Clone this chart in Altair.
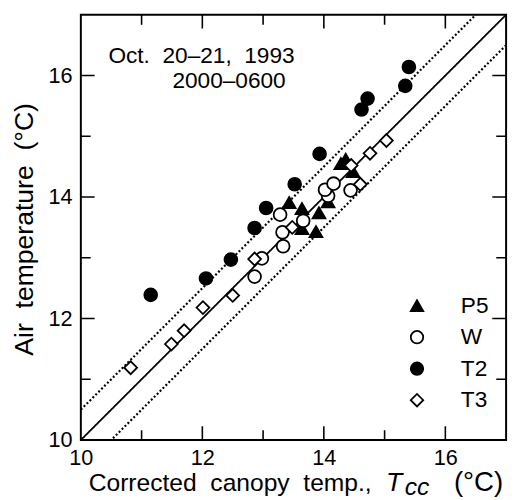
import altair as alt
import pandas as pd

FONT = "Liberation Sans"
NB = "\u00a0"

series_order = ["P5", "W", "T2", "T3"]
series_shapes = ["triangle-up", "circle", "circle", "diamond"]
series_fills = ["black", "white", "black", "white"]

p5_x = [13.43, 13.64, 13.92, 13.87, 13.64, 14.07, 14.28, 14.36, 14.48]
p5_y = [13.91, 13.81, 13.74, 13.43, 13.48, 13.92, 14.55, 14.62, 14.42]

w_x = [12.86, 12.98, 13.33, 13.32, 13.28, 13.66, 14.07, 14.02, 14.16, 14.44]
w_y = [12.69, 12.99, 13.19, 13.42, 13.71, 13.61, 14.02, 14.12, 14.22, 14.11]

t2_x = [11.15, 12.06, 12.47, 12.86, 13.05, 13.52, 13.93, 14.62, 14.72, 15.34, 15.40]
t2_y = [12.39, 12.66, 12.97, 13.49, 13.82, 14.21, 14.71, 15.44, 15.62, 15.83, 16.14]

t3_x = [10.82, 11.49, 11.70, 12.01, 12.50, 12.86, 13.48, 14.45, 14.60, 14.76, 15.03]
t3_y = [11.19, 11.58, 11.80, 12.18, 12.38, 12.98, 13.50, 14.52, 14.21, 14.72, 14.93]

axis_domain = [10, 17]
label_values = [10, 12, 14, 16]
tick_values = [11, 12, 13, 14, 15, 16]
line_offsets = [0, 0.5, -0.5]
line_styles = ["solid", "dotted", "dotted"]

annotation = ["Oct." + NB + " 20\u201321," + NB + " 1993", "2000\u20130600"]
x_title_parts = ["Corrected" + NB + " canopy" + NB + " temp.,", "T", "cc", "(\u00b0C)"]
y_title = "Air" + NB + " temperature" + NB + " (\u00b0C)"

# ---- data frames
rows = []
for name, xs_, ys_ in [("T2", t2_x, t2_y), ("P5", p5_x, p5_y), ("W", w_x, w_y), ("T3", t3_x, t3_y)]:
    for a, b in zip(xs_, ys_):
        rows.append({"x": a, "y": b, "series": name})
pts = pd.DataFrame(rows)
pts["order"] = range(len(pts))

lrows = []
for i, (off, sty) in enumerate(zip(line_offsets, line_styles)):
    for xv in axis_domain:
        lrows.append({"x": xv, "y": xv + off, "line": i, "style": sty})
lines_df = pd.DataFrame(lrows)

ticks_df = pd.DataFrame({"v": tick_values,
                         "len": [28 if v % 2 == 0 else 20 for v in tick_values]})

xs = alt.Scale(domain=axis_domain, nice=False, zero=False)
ys = alt.Scale(domain=axis_domain, nice=False, zero=False)

x_axis = alt.Axis(values=label_values, format="d", ticks=False, tickSize=0, domain=False, grid=False,
                  title=None, labelFontSize=22, labelFont=FONT, labelColor="black",
                  labelPadding=8, labelFlush=False, labelOverlap=False)
y_axis = alt.Axis(values=label_values, format="d", ticks=False, tickSize=0, domain=False, grid=False,
                  title=None, labelFontSize=22, labelFont=FONT, labelColor="black",
                  labelPadding=9, labelFlush=False, labelOverlap=False)

lines = alt.Chart(lines_df).mark_line(clip=True, color="black").encode(
    x=alt.X("x:Q", scale=xs, axis=x_axis),
    y=alt.Y("y:Q", scale=ys, axis=y_axis),
    detail="line:N",
    strokeDash=alt.StrokeDash("style:N", scale=alt.Scale(domain=["solid", "dotted"],
                                                         range=[[1, 0], [2, 2.2]]), legend=None),
    strokeWidth=alt.StrokeWidth("style:N", scale=alt.Scale(domain=["solid", "dotted"],
                                                           range=[1.8, 2.2]), legend=None),
)

def tick_layer(orient, xenc, yenc):
    return alt.Chart(ticks_df).mark_tick(orient=orient, clip=True, color="black",
                                         thickness=1.6, opacity=1).encode(
        x=xenc, y=yenc, size=alt.Size("len:Q", scale=None, legend=None))

ticks = [
    tick_layer("vertical", alt.X("v:Q", scale=xs), alt.datum(10)),
    tick_layer("vertical", alt.X("v:Q", scale=xs), alt.datum(17)),
    tick_layer("horizontal", alt.datum(10), alt.Y("v:Q", scale=ys)),
    tick_layer("horizontal", alt.datum(17), alt.Y("v:Q", scale=ys)),
]

leg = alt.Legend(title=None)
points = alt.Chart(pts).mark_point(filled=True, opacity=1, size=170, strokeWidth=1.8).encode(
    x=alt.X("x:Q", scale=xs),
    y=alt.Y("y:Q", scale=ys),
    shape=alt.Shape("series:N", scale=alt.Scale(domain=series_order, range=series_shapes), legend=leg),
    fill=alt.Fill("series:N", scale=alt.Scale(domain=series_order, range=series_fills), legend=leg),
    stroke=alt.Stroke("series:N", scale=alt.Scale(domain=series_order, range=["black"] * 4), legend=leg),
    order="order:Q",
)

def text_layer(s, x, y, size, style="normal", align="left", angle=0, baseline="alphabetic"):
    kw = dict(align=align, baseline=baseline, fontSize=size, font=FONT,
              fontStyle=style, color="black")
    if angle:
        kw["angle"] = angle
    return alt.Chart(pd.DataFrame({"t": [s]})).mark_text(**kw).encode(
        x=alt.value(x), y=alt.value(y), text="t:N")

texts = [
    text_layer(annotation[0], 28, 49, 23),
    text_layer(annotation[1], 93, 74, 23),
    text_layer(x_title_parts[0], 8, 484, 25),
    text_layer(x_title_parts[1], 310, 484, 27, style="italic"),
    text_layer(x_title_parts[2], 329, 488, 25, style="italic"),
    text_layer(x_title_parts[3], 379, 484, 28),
    text_layer(y_title, -49, 218, 27, align="center", angle=270),
]

chart = alt.layer(lines, *ticks, points, *texts).properties(
    width=432, height=432,
    padding={"left": 74, "top": 3, "right": 6, "bottom": 56},
    autosize=alt.AutoSizeParams(type="none"),
).configure_view(
    stroke="black", strokeWidth=2
).configure_legend(
    orient="none", legendX=330, legendY=284, padding=0,
    labelFontSize=23, labelFont=FONT, labelColor="black",
    symbolSize=160, symbolStrokeWidth=1.8,
    rowPadding=8, labelOffset=33,
)

chart.save("out.html", embed_options={"renderer": "svg", "actions": False})
